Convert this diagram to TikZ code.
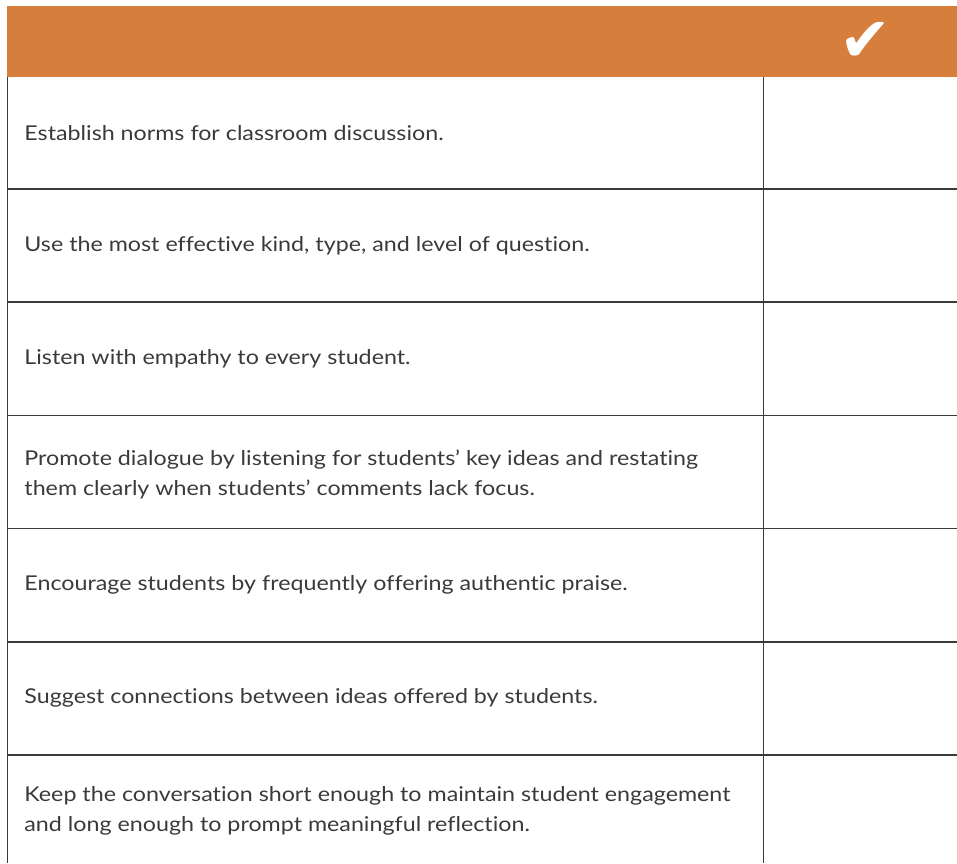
\documentclass[tikz,border=0pt]{standalone}
\usepackage{fontspec}
\setmainfont[FakeStretch=1.14,Ligatures=NoCommon]{Lato}
\newfontfamily\ticksymbol{DejaVu Sans}
\definecolor{headorange}{HTML}{D67E3C}
\definecolor{rulegray}{HTML}{3A3A3A}
\begin{document}
\begin{tikzpicture}[
			x=0.5pt,y=-0.5pt,
			rowtext/.style={anchor=west,align=left,inner sep=0pt,text=rulegray,font=\fontsize{10.2}{15}\selectfont},
			rowline/.style={draw=rulegray,line width=0.75pt}
		]
		\useasboundingbox (0,0) rectangle (957,863);
		\fill[headorange] (7,6) rectangle (957,77);
		\node[text=white,font=\ticksymbol\fontsize{31}{31}\selectfont] (tick) at (865,42) {✔};
		\draw[rowline] (7.5,77) -- (7.5,863);
		\draw[rowline] (763.5,77) -- (763.5,863);
		\foreach \y in {189,302,415.5,528.7,642,755}
			\draw[rowline] (7,\y) -- (957,\y);
		\node[rowtext] (r1) at (24,133) {Establish norms for classroom discussion.};
		\node[rowtext] (r2) at (24,246) {Use the most effective kind, type, and level of question.};
		\node[rowtext] (r3) at (24,359) {Listen with empathy to every student.};
		\node[rowtext] (r4) at (24,474) {Promote dialogue by listening for students’ key ideas and restating\\them clearly when students’ comments lack focus.};
		\node[rowtext] (r5) at (24,585) {Encourage students by frequently offering authentic praise.};
		\node[rowtext] (r6) at (24,698) {Suggest connections between ideas offered by students.};
		\node[rowtext] (r7) at (24,811) {Keep the conversation short enough to maintain student engagement\\and long enough to prompt meaningful reflection.};
	\end{tikzpicture}
\end{document}
